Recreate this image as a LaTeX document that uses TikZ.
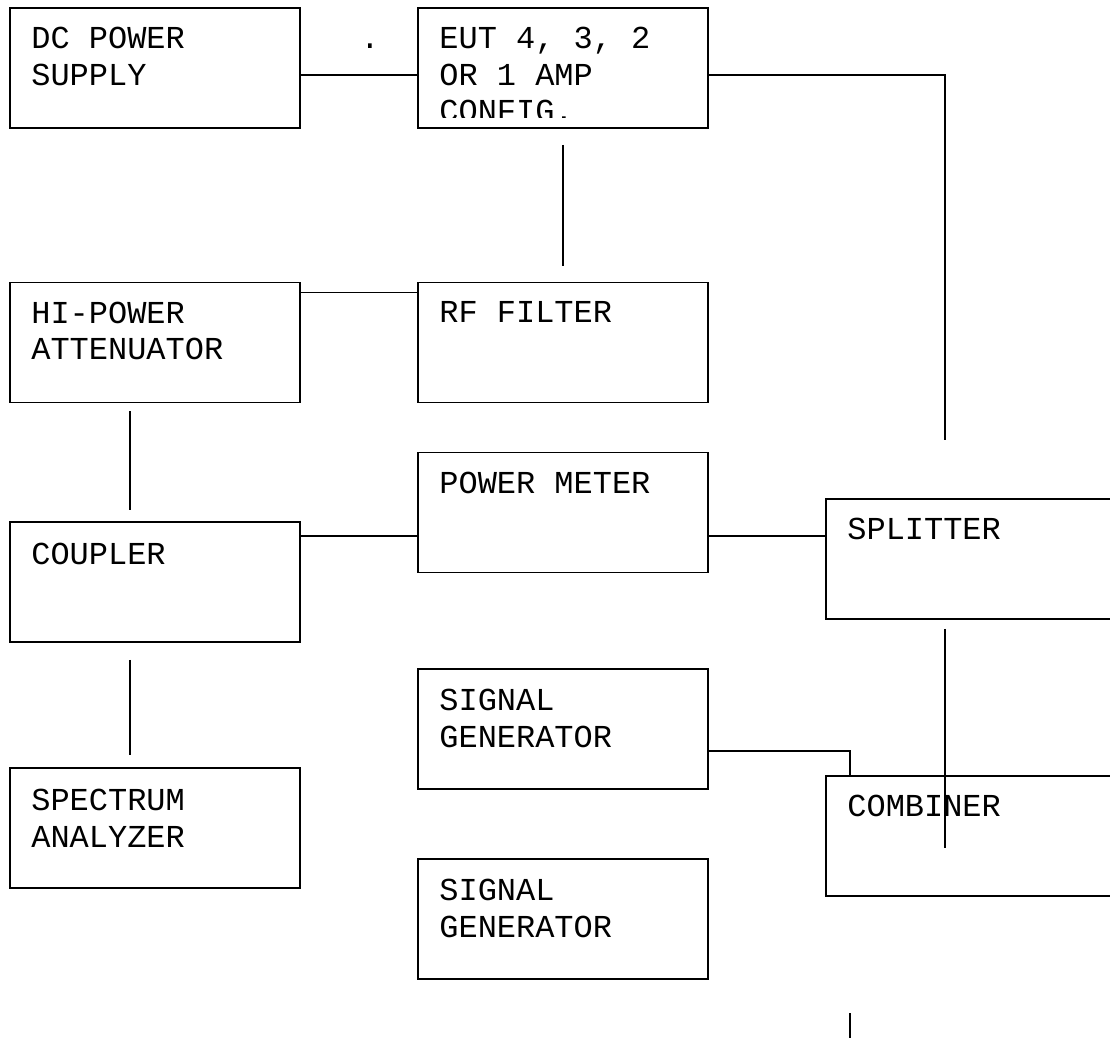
\documentclass[tikz,border=0pt]{standalone}
\usepackage{fontspec}
\usetikzlibrary{calc,positioning}
\newfontfamily\boxfont{Liberation Mono}

\begin{document}
\begin{tikzpicture}[x=0.02cm,y=-0.02cm,
  unit/.style={draw,line width=1.1pt,minimum width=5.8cm,minimum height=2.4cm,inner sep=0pt,outer sep=0pt},
  boxtext/.style={anchor=north west,inner sep=0pt,align=left,font=\boxfont\fontsize{18.2}{20.8}\selectfont},
  wire/.style={line width=1.1pt}]
\clip (0,0) rectangle (1110,1040);
\fill[white] (0,0) rectangle (1110,1040);

% boxes
\node[unit] (dcps) at (155,68) {};
\node[unit] (eut) at (563,68) {};
\node[unit] (atten) at (155,342.5) {};
\node[unit] (rffilter) at (563,342.5) {};
\node[unit] (coupler) at (155,582) {};
\node[unit] (pwrmeter) at (563,512.5) {};
\node[unit] (splitter) at (971,559) {};
\node[unit] (siggena) at (563,729) {};
\node[unit] (combiner) at (971,836) {};
\node[unit] (specan) at (155,828) {};
\node[unit] (siggenb) at (563,919) {};

% texts
\node[boxtext] (dcpstext) at ([shift={(0.42cm,-0.38cm)}]dcps.north west) {DC POWER\\SUPPLY};
\begin{scope}
\clip (eut.north west) rectangle ([yshift=0.2cm]eut.south east);
\node[boxtext] (euttext) at ([shift={(0.42cm,-0.38cm)}]eut.north west) {EUT 4, 3, 2\\OR 1 AMP\\CONFIG.};
\end{scope}
\node[boxtext] (attentext) at ([shift={(0.42cm,-0.38cm)}]atten.north west) {HI-POWER\\ATTENUATOR};
\node[boxtext] (rffiltertext) at ([shift={(0.42cm,-0.38cm)}]rffilter.north west) {RF FILTER};
\node[boxtext] (couplertext) at ([shift={(0.42cm,-0.42cm)}]coupler.north west) {COUPLER};
\node[boxtext] (pwrmetertext) at ([shift={(0.42cm,-0.38cm)}]pwrmeter.north west) {POWER METER};
\node[boxtext] (splittertext) at ([shift={(0.42cm,-0.38cm)}]splitter.north west) {SPLITTER};
\node[boxtext] (siggenatext) at ([shift={(0.42cm,-0.4cm)}]siggena.north west) {SIGNAL\\GENERATOR};
\node[boxtext] (combinertext) at ([shift={(0.42cm,-0.38cm)}]combiner.north west) {COMBINER};
\node[boxtext] (specantext) at ([shift={(0.42cm,-0.42cm)}]specan.north west) {SPECTRUM\\ANALYZER};
\node[boxtext] (siggenbtext) at ([shift={(0.42cm,-0.4cm)}]siggenb.north west) {SIGNAL\\GENERATOR};
\node[boxtext,anchor=base] (dot) at (370,49) {.};

% connectors
\coordinate (splitfeed) at (945,440);
\coordinate (stubtop) at (850,1013);
\coordinate (stubend) at (850,1038);
\draw[wire] ([yshift=-0.14cm]dcps.east) -- ([yshift=-0.14cm]eut.west);
\draw[wire] ([yshift=-0.14cm]eut.east) -| (splitfeed);
\draw[wire] ([yshift=-0.34cm]eut.south) -- ([yshift=0.34cm]rffilter.north);
\draw[wire] ([yshift=-0.2cm]atten.north east) -- ([yshift=-0.2cm]rffilter.north west);
\draw[wire] ([shift={(-0.5cm,-0.18cm)}]atten.south) -- ([shift={(-0.5cm,0.24cm)}]coupler.north);
\draw[wire] ([yshift=-0.28cm]coupler.north east) coordinate (cpout) -- (cpout -| pwrmeter.west);
\draw[wire] ([yshift=-0.47cm]pwrmeter.east) coordinate (pmout) -- (pmout -| splitter.west);
\draw[wire] ([shift={(-0.52cm,-0.2cm)}]splitter.south) -- ([shift={(-0.52cm,-0.24cm)}]combiner.center);
\draw[wire] ([shift={(-0.5cm,-0.36cm)}]coupler.south) -- ([shift={(-0.5cm,0.26cm)}]specan.north);
\draw[wire] ([yshift=-0.44cm]siggena.east) -| ([xshift=0.48cm]combiner.north west);
\draw[wire] (stubtop) -- (stubend);
\end{tikzpicture}
\end{document}
